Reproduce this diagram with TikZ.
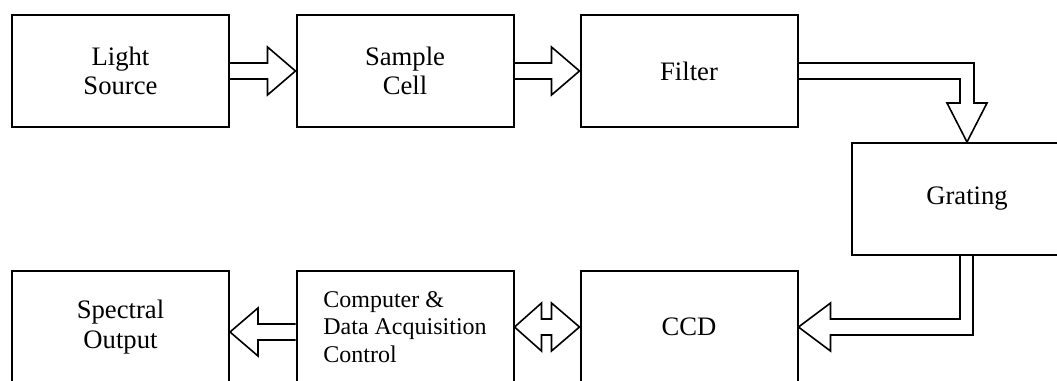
\documentclass[tikz,border=0pt]{standalone}
\usepackage{fontspec}
\setmainfont{Liberation Serif}
\usetikzlibrary{calc}

\tikzset{
  blockbox/.style={draw, line width=1.5pt, minimum width=162.75pt, minimum height=84pt,
    inner sep=0pt, align=center, font=\fontsize{20}{22}\selectfont},
  hollow/.style={draw, line width=1.2pt},
}

\begin{document}
\begin{tikzpicture}[x=0.75pt,y=-0.75pt]
\useasboundingbox (0,0) rectangle (1057,380);
% upper row
\node[blockbox] (light) at (120.5,71) {Light\\Source};
\node[blockbox] (sample) at (405,71) {Sample\\Cell};
\node[blockbox] (filter) at (689,71) {Filter};
\node[blockbox, minimum width=172.5pt] (grating) at (967,199) {Grating};
% lower row
\node[blockbox] (output) at (120.5,327) {Spectral\\Output};
\node[blockbox, align=left, font=\fontsize{18}{20.6}\selectfont] (computer) at (405,327)
  {Computer \&\\Data Acquisition\\Control};
\node[blockbox] (ccd) at (689,327) {CCD};

% hollow arrows along the top
\draw[hollow] ($(light.east)+(0,-8)$) -- ($(sample.west)+(-28,-8)$) -- ++(0,-16)
  -- (sample.west) -- ++(-28,24) -- ++(0,-16) -- ($(light.east)+(0,8)$);
\draw[hollow] ($(sample.east)+(0,-8)$) -- ($(filter.west)+(-28,-8)$) -- ++(0,-16)
  -- (filter.west) -- ++(-28,24) -- ++(0,-16) -- ($(sample.east)+(0,8)$);

% filter down into the grating
\coordinate (fghead) at ($(grating.north)+(0,-39)$);
\draw[hollow] ($(filter.east)+(0,-8)$) -| ($(fghead)+(7,0)$) -- ++(13,0) -- (grating.north)
  -- ++(-20,-39) -- ++(13,0) |- ($(filter.east)+(0,8)$);

% grating back round to the CCD
\draw[hollow] ($(grating.south)+(-7,0)$) |- ($(ccd.east)+(32,-8)$) -- ++(0,-16) -- (ccd.east)
  -- ++(32,24) -- ++(0,-16) -| ($(grating.south)+(6,0)$);

% two-way link between computer and CCD
\draw[hollow] (computer.east) -- ++(27,-24) -- ++(0,16) -- ($(ccd.west)+(-28,-8)$) -- ++(0,-16)
  -- (ccd.west) -- ++(-28,24) -- ++(0,-16) -- ($(computer.east)+(27,8)$) -- ++(0,16) -- cycle;

% computer out to the spectral output
\draw[hollow] ($(computer.west)+(0,-3)$) -- ($(output.east)+(28,-3)$) -- ++(0,-16)
  -- ($(output.east)+(0,5)$) -- ++(28,24) -- ++(0,-16) -- ($(computer.west)+(0,13)$);
\end{tikzpicture}
\end{document}
